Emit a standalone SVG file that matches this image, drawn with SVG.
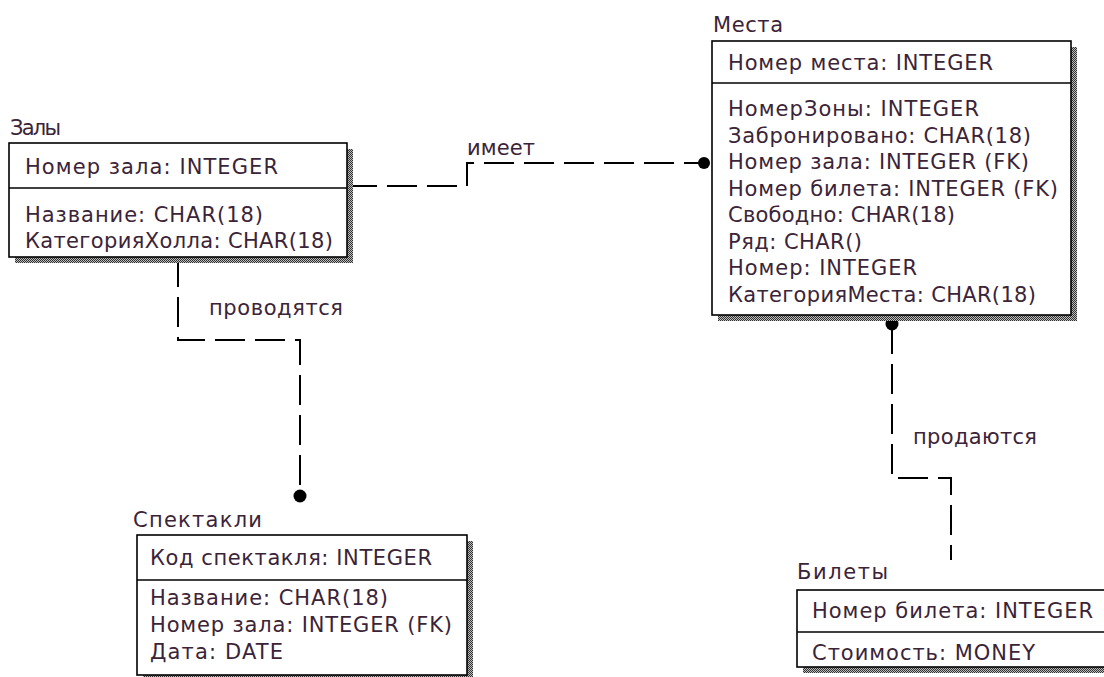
<svg xmlns="http://www.w3.org/2000/svg" width="1104" height="677" viewBox="0 0 1104 677">
  <defs>
    <!-- fine checker texture used for the drop shadows -->
    <pattern id="dots" width="2" height="2" patternUnits="userSpaceOnUse">
      <rect width="2" height="2" fill="#bdbdbd"/>
      <rect width="1" height="1" fill="#303030"/>
      <rect x="1" y="1" width="1" height="1" fill="#303030"/>
    </pattern>
  </defs>
  <style>
    text { font-family: "DejaVu Sans", "Liberation Sans", sans-serif; font-size: 21px; fill: #3b2438; }
    .shadow { fill: url(#dots); }
    .box { fill: #ffffff; stroke: #000000; stroke-width: 1.6; }
    .sep { stroke: #000000; stroke-width: 1.6; }
    .rel { fill: none; stroke: #000000; stroke-width: 2; stroke-dasharray: 30 10; }
    .dot { fill: #000000; }
  </style>
  <rect width="1104" height="677" fill="#ffffff"/>

  <!-- relationships -->
  <g id="connectors">
    <path class="rel" d="M347,186 H467 V163 H703"/>
    <circle class="dot" cx="704" cy="163" r="6"/>
    <text x="467" y="155" textLength="68">имеет</text>

    <path class="rel" d="M178,257 V340 H300 V497"/>
    <circle class="dot" cx="300" cy="496" r="6.5"/>
    <text x="209" y="315" textLength="134">проводятся</text>

    <path class="rel" d="M892,324 V478 H951 V560"/>
    <circle class="dot" cx="892" cy="324" r="6.5"/>
    <text x="913" y="444" textLength="124">продаются</text>
  </g>

  <!-- Залы -->
  <g id="halls">
    <text x="10" y="135" textLength="51">Залы</text>
    <rect class="shadow" x="15" y="149" width="338" height="114"/>
    <rect class="box" x="9" y="143" width="338" height="114"/>
    <line class="sep" x1="9" y1="188" x2="347" y2="188"/>
    <text x="25" y="174" textLength="253">Номер зала: INTEGER</text>
    <text x="25" y="222" textLength="238">Название: CHAR(18)</text>
    <text x="25" y="248" textLength="308">КатегорияХолла: CHAR(18)</text>
  </g>

  <!-- Места -->
  <g id="seats">
    <text x="713" y="32" textLength="70">Места</text>
    <rect class="shadow" x="718" y="47" width="359" height="274"/>
    <rect class="box" x="712" y="41" width="359" height="274"/>
    <line class="sep" x1="712" y1="83" x2="1071" y2="83"/>
    <text x="728" y="70" textLength="265">Номер места: INTEGER</text>
    <text x="728" y="116" textLength="251">НомерЗоны: INTEGER</text>
    <text x="728" y="142.5" textLength="303">Забронировано: CHAR(18)</text>
    <text x="728" y="169" textLength="301">Номер зала: INTEGER (FK)</text>
    <text x="728" y="195.5" textLength="330">Номер билета: INTEGER (FK)</text>
    <text x="728" y="222" textLength="227">Свободно: CHAR(18)</text>
    <text x="728" y="248.5" textLength="134">Ряд: CHAR()</text>
    <text x="728" y="275" textLength="189">Номер: INTEGER</text>
    <text x="728" y="301.5" textLength="308">КатегорияМеста: CHAR(18)</text>
  </g>

  <!-- Спектакли -->
  <g id="performances">
    <text x="133" y="527" textLength="129">Спектакли</text>
    <rect class="shadow" x="143" y="541" width="330" height="140"/>
    <rect class="box" x="137" y="535" width="330" height="140"/>
    <line class="sep" x1="137" y1="580" x2="467" y2="580"/>
    <text x="150" y="565" textLength="282">Код спектакля: INTEGER</text>
    <text x="150" y="605" textLength="238">Название: CHAR(18)</text>
    <text x="150" y="632" textLength="302">Номер зала: INTEGER (FK)</text>
    <text x="150" y="659" textLength="133">Дата: DATE</text>
  </g>

  <!-- Билеты -->
  <g id="tickets">
    <text x="797" y="579" textLength="91">Билеты</text>
    <rect class="shadow" x="803" y="596" width="310" height="77"/>
    <rect class="box" x="797" y="590" width="310" height="77"/>
    <line class="sep" x1="797" y1="632" x2="1107" y2="632"/>
    <text x="812" y="618" textLength="281">Номер билета: INTEGER</text>
    <text x="812" y="660" textLength="223">Стоимость: MONEY</text>
  </g>
</svg>
